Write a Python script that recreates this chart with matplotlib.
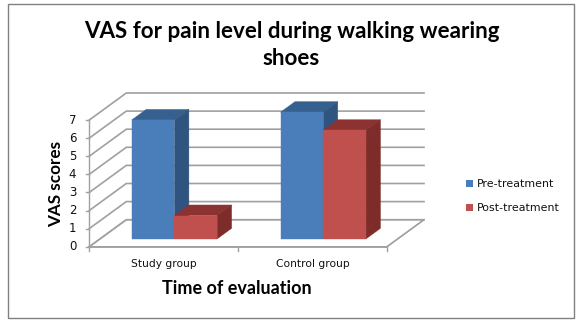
import matplotlib
matplotlib.use("Agg")
import matplotlib.pyplot as plt
from matplotlib.patches import Polygon, Rectangle

W, H = 577, 329
categories = ["Study group", "Control group"]
series_names = ["Pre-treatment", "Post-treatment"]
pre_treatment = [6.57, 7.0]
post_treatment = [1.29, 6.0]
y_ticks = [0, 1, 2, 3, 4, 5, 6, 7]
title = "VAS for pain level during walking wearing\nshoes"
x_label = "Time of evaluation"
y_label = "VAS scores"

FACE = ["#4A7EBB", "#C0504D"]
TOP = ["#36618F", "#8C3231"]
SIDE = ["#2F5480", "#7D2C2A"]
GRID = "#A0A0A0"

fig = plt.figure(figsize=(W / 100, H / 100), dpi=100, facecolor="white")
L, R, B, T = 89.3, 387.0, 246.7, 120.0
ax = fig.add_axes([L / W, 1 - B / H, (R - L) / W, (B - T) / H])
ax.set_xlim(0, len(categories))
ax.set_ylim(0, y_ticks[-1])
ax.axis("off")

# projection depth, in data units of the axes
DX = 37 / ((R - L) / len(categories))
DY = 27 / ((B - T) / y_ticks[-1])
BAR_W = 0.287
Z0, Z1 = 0.29, 0.68


def poly(pts, **kw):
    ax.add_patch(Polygon(pts, closed=True, clip_on=False, **kw))


n = len(categories)
# floor
poly([(0, 0), (n, 0), (n + DX, DY), (DX, DY)], fc="white", ec=GRID, lw=1, zorder=1)
# walls and gridlines
for y in y_ticks:
    ax.plot([0, DX, n + DX], [y, y + DY, y + DY], color=GRID, lw=1.2, zorder=1,
            clip_on=False, solid_joinstyle="miter")
    ax.plot([-0.02, 0], [y, y], color=GRID, lw=1, zorder=1, clip_on=False)
ax.plot([0, 0], [0, y_ticks[-1]], color=GRID, lw=1, zorder=1, clip_on=False)
ax.plot([0, n], [0, 0], color=GRID, lw=1.3, zorder=2, clip_on=False)
ax.plot([n, n + DX], [0, DY], color=GRID, lw=1, zorder=2, clip_on=False)
for i in range(n + 1):
    ax.plot([i, i], [0, -4 / ((B - T) / y_ticks[-1])], color=GRID, lw=1, zorder=2, clip_on=False)

# 3D bars, back to front, left to right
for c in range(n):
    for s, vals in enumerate([pre_treatment, post_treatment]):
        x0 = c + 0.5 - BAR_W + s * BAR_W + Z0 * DX
        x1 = x0 + BAR_W
        y0 = Z0 * DY
        y1 = y0 + vals[c]
        ddx, ddy = (Z1 - Z0) * DX, (Z1 - Z0) * DY
        z = 3 + s
        poly([(x0, y1), (x1, y1), (x1 + ddx, y1 + ddy), (x0 + ddx, y1 + ddy)],
             fc=TOP[s], ec=TOP[s], lw=0.3, zorder=z)
        poly([(x1, y0), (x1 + ddx, y0 + ddy), (x1 + ddx, y1 + ddy), (x1, y1)],
             fc=SIDE[s], ec=SIDE[s], lw=0.3, zorder=z)
        ax.add_patch(Rectangle((x0, y0), BAR_W, vals[c], fc=FACE[s], ec=FACE[s], lw=0.3,
                               zorder=z + 0.5, clip_on=False))

# tick labels
for y in y_ticks:
    ax.annotate(str(y), (0, y), xytext=(-13, 0), textcoords="offset pixels", ha="right",
                va="center", fontsize=8.5, color="#111111", family="DejaVu Sans")
for i, c in enumerate(categories):
    ax.annotate(c, (i + 0.5, 0), xytext=(0, -17), textcoords="offset pixels", ha="center",
                va="center", fontsize=7.7, color="#111111", family="DejaVu Sans")

ax.annotate(y_label, (0, y_ticks[-1] / 2), xytext=(-33, -1), textcoords="offset pixels",
            rotation=90, ha="center", va="center", fontsize=12.3, fontweight="bold",
            family="Lato", color="black")
ax.annotate(x_label, (n / 2, 0), xytext=(-1, -42), textcoords="offset pixels", ha="center",
            va="center", fontsize=13, fontweight="bold", family="Lato", color="black")

fig.text(291.5 / W, 1 - 45 / H, title, ha="center", va="center", fontsize=16.1,
         fontweight="bold", family="Lato", color="black", linespacing=1.35)

# legend
for s, name in enumerate(series_names):
    ypx = 183.7 + s * 24
    fig.add_artist(Rectangle((466 / W, 1 - (ypx + 3.5) / H), 7 / W, 7 / H, fc=FACE[s], ec="none",
                             transform=fig.transFigure))
    fig.text(476.5 / W, 1 - ypx / H, name, ha="left", va="center", fontsize=7.9,
             family="DejaVu Sans", color="#111111")

# frame
fig.add_artist(Rectangle((7.5 / W, 1 - 317.5 / H), 566 / W, 313.5 / H, fc="none", ec="#808080", lw=1,
                         transform=fig.transFigure))
fig.savefig("out.png", dpi=100)
